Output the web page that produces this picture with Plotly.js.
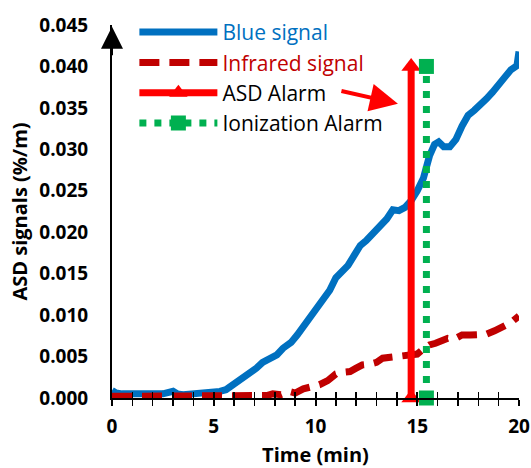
<!DOCTYPE html>
<html>
<head>
<meta charset="utf-8">
<script src="https://cdn.plot.ly/plotly-3.0.1.min.js"></script>
<style>html,body{margin:0;padding:0;background:#fff;}#chart{width:531px;height:468px;}</style>
</head>
<body>
<div id="chart"></div>
<script>
// Time (min) and signal values
var blueTime = [0, 0.2, 0.5, 1, 1.5, 2, 2.5, 3, 3.2, 3.5, 4, 4.5, 5, 5.3, 5.6, 5.9, 6.2, 6.5, 6.8, 7.1, 7.4, 7.8, 8.1, 8.4, 8.8, 9.1, 9.4, 9.7, 10.0, 10.4, 10.7, 11.0, 11.3, 11.6, 11.9, 12.2, 12.5, 12.8, 13.2, 13.5, 13.8, 14.1, 14.4, 14.7, 15.0, 15.3, 15.6, 15.85, 16.05, 16.3, 16.6, 16.9, 17.2, 17.5, 17.8, 18.1, 18.4, 18.7, 19.0, 19.3, 19.6, 19.9, 20.0];
var blueSignal = [0.0009, 0.0006, 0.0005, 0.0005, 0.0004, 0.0005, 0.0005, 0.0008, 0.0005, 0.0004, 0.0005, 0.0005, 0.0007, 0.0008, 0.0010, 0.0015, 0.0019, 0.0025, 0.0030, 0.0036, 0.0043, 0.0047, 0.0052, 0.0060, 0.0067, 0.0076, 0.0086, 0.0095, 0.0105, 0.0117, 0.0130, 0.0145, 0.0152, 0.0160, 0.0172, 0.0184, 0.0190, 0.0197, 0.0207, 0.0216, 0.0227, 0.0226, 0.0230, 0.0238, 0.0250, 0.0265, 0.0292, 0.0306, 0.0309, 0.0303, 0.0303, 0.0312, 0.0328, 0.0341, 0.0347, 0.0353, 0.0361, 0.0369, 0.0378, 0.0388, 0.0396, 0.0401, 0.0418];

var irTime = [0, 1, 2, 3, 4, 5, 6, 7, 7.6, 7.9, 8.3, 8.7, 9.0, 9.4, 9.8, 10.2, 10.6, 11.0, 11.3, 11.7, 12.0, 12.3, 12.7, 13.0, 13.3, 13.7, 14.0, 14.3, 14.6, 15.0, 15.3, 15.6, 15.9, 16.2, 16.5, 16.8, 17.2, 17.6, 18.0, 18.4, 18.8, 19.2, 19.6, 20.0];
var irSignal = [0.0002, 0.0002, 0.0002, 0.0002, 0.0002, 0.0002, 0.0002, 0.0002, 0.0003, 0.0005, 0.0004, 0.0008, 0.0006, 0.0011, 0.0013, 0.0016, 0.0021, 0.0029, 0.0031, 0.0032, 0.0036, 0.0040, 0.0041, 0.0043, 0.0048, 0.0049, 0.0050, 0.0052, 0.0052, 0.0053, 0.0059, 0.0064, 0.0066, 0.0068, 0.0072, 0.0071, 0.0076, 0.0076, 0.0076, 0.0077, 0.0081, 0.0086, 0.0091, 0.0099];

var asdTime = [14.7, 14.7];
var asdLevel = [0, 0.040];
var ionTime = [15.45, 15.45];
var ionLevel = [0, 0.040];

var yTicks = [0, 0.005, 0.010, 0.015, 0.020, 0.025, 0.030, 0.035, 0.040, 0.045];
var xTicks = [0, 5, 10, 15, 20];
var xMinorTicks = [1, 2, 3, 4, 6, 7, 8, 9, 11, 12, 13, 14, 16, 17, 18, 19];

var traces = [
  {x: blueTime, y: blueSignal, mode: 'lines', name: '<span style="color:#0070C0">Blue signal</span>',
   line: {color: '#0070C0', width: 7}},
  {x: irTime, y: irSignal, mode: 'lines', name: '<span style="color:#C00000">Infrared signal</span>',
   line: {color: '#C00000', width: 7, dash: '20px,10px'}},
  {x: asdTime, y: asdLevel, mode: 'lines+markers', name: 'ASD Alarm', cliponaxis: false,
   line: {color: '#FF0000', width: 7}, marker: {symbol: 'triangle-up', size: 17, color: '#FF0000'}},
  {x: ionTime, y: ionLevel, mode: 'lines+markers', name: 'Ionization Alarm', cliponaxis: false,
   line: {color: '#00B050', width: 7, dash: '7px,8px'}, marker: {symbol: 'square', size: 15, color: '#00B050'}},
  {x: [0, 20], y: [0, 0], xaxis: 'x2', mode: 'lines', line: {width: 0}, showlegend: false, hoverinfo: 'skip'}
];

var layout = {
  width: 531, height: 468,
  margin: {l: 112, r: 12, t: 21, b: 70},
  paper_bgcolor: '#fff', plot_bgcolor: 'rgba(0,0,0,0)',
  font: {family: '"Open Sans", sans-serif', color: '#000'},
  showlegend: true,
  legend: {x: 0.055, y: 1.035, xanchor: 'left', yanchor: 'top', bgcolor: 'rgba(0,0,0,0)',
           font: {size: 21, color: '#000'}, itemwidth: 78, tracegroupgap: 0},
  xaxis: {range: [0, 20], tickvals: xTicks, ticks: 'outside', ticklen: 6, tickwidth: 2, tickcolor: '#000',
          minor: {tickvals: xMinorTicks, ticks: 'outside', ticklen: 6, tickwidth: 1.5, tickcolor: '#000'},
          showline: true, linecolor: '#000', linewidth: 2, showgrid: false, zeroline: false,
          tickfont: {size: 19, weight: 'bold'}, ticklabelstandoff: 4, automargin: false,
          title: {text: '<b>Time (min)</b>', font: {size: 20}, standoff: 20}},
  xaxis2: {range: [0, 20], overlaying: 'x', side: 'bottom', anchor: 'y', tickvals: xTicks, ticks: 'inside', ticklen: 6, tickwidth: 2, tickcolor: '#000',
          minor: {tickvals: xMinorTicks, ticks: 'inside', ticklen: 6, tickwidth: 1.5, tickcolor: '#000'},
          showticklabels: false, showline: false, showgrid: false, zeroline: false},
  yaxis: {range: [0, 0.045], tickvals: yTicks, tickformat: '.3f', ticks: '', showline: true, linecolor: '#000', linewidth: 2,
          showgrid: false, zeroline: false, tickfont: {size: 19, weight: 'bold'}, ticklabelstandoff: 18, automargin: false,
          title: {text: '<b>ASD signals (%/m)</b>', font: {size: 20}, standoff: 6}},
  annotations: [
    {x: 0, y: 0.0448, xref: 'x', yref: 'y', ax: 0, ay: 30, showarrow: true, arrowhead: 2, arrowsize: 2.2, arrowwidth: 2, arrowcolor: '#000', text: ''},
    {x: 14.05, y: 0.0355, xref: 'x', yref: 'y', ax: -58, ay: -13, showarrow: true, arrowhead: 2, arrowsize: 1.4, arrowwidth: 4, arrowcolor: '#FF0000', text: ''}
  ]
};

Plotly.newPlot('chart', traces, layout, {displayModeBar: false, staticPlot: true});
</script>
</body>
</html>
